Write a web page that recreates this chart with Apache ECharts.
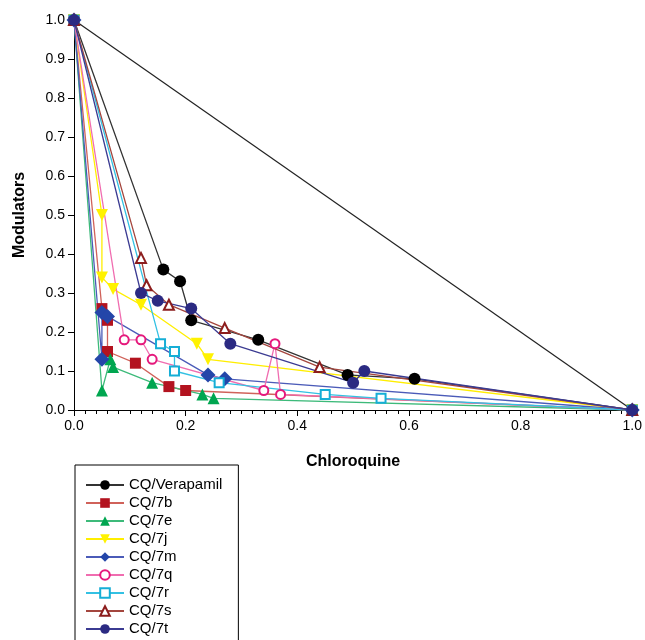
<!DOCTYPE html>
<html>
<head>
<meta charset="utf-8">
<script src="https://cdn.jsdelivr.net/npm/echarts@6/dist/echarts.min.js"></script>
<style>
  html, body { margin: 0; padding: 0; background: #fff; }
  #chart { width: 645px; height: 640px; }
</style>
</head>
<body>
<div id="chart"></div>
<script>
// isobologram data, [chloroquine, modulator] fractions
const verapamil = [[0, 1], [0.16, 0.36], [0.19, 0.33], [0.21, 0.23], [0.33, 0.18], [0.49, 0.09], [0.61, 0.08], [1, 0]];
const cq7b = [[0, 1], [0.05, 0.26], [0.06, 0.23], [0.06, 0.15], [0.11, 0.12], [0.17, 0.06], [0.20, 0.05], [1, 0]];
const cq7e = [[0, 1], [0.05, 0.05], [0.065, 0.13], [0.07, 0.11], [0.14, 0.07], [0.23, 0.04], [0.25, 0.03], [1, 0]];
const cq7j = [[0, 1], [0.05, 0.50], [0.05, 0.34], [0.07, 0.31], [0.12, 0.27], [0.22, 0.17], [0.24, 0.13], [1, 0]];
const cq7m = [[0, 1], [0.05, 0.13], [0.05, 0.25], [0.06, 0.24], [0.24, 0.09], [0.27, 0.08], [1, 0]];
const cq7q = [[0, 1], [0.09, 0.18], [0.12, 0.18], [0.14, 0.13], [0.34, 0.05], [0.36, 0.17], [0.37, 0.04], [1, 0]];
const cq7r = [[0, 1], [0.155, 0.17], [0.18, 0.15], [0.18, 0.10], [0.26, 0.07], [0.45, 0.04], [0.55, 0.03], [1, 0]];
const cq7s = [[0, 1], [0.12, 0.39], [0.13, 0.32], [0.17, 0.27], [0.27, 0.21], [0.44, 0.11], [1, 0]];
const cq7t = [[0, 1], [0.12, 0.30], [0.15, 0.28], [0.21, 0.26], [0.28, 0.17], [0.50, 0.07], [0.52, 0.10], [1, 0]];
const additivity = [[0, 1], [1, 0]];

const seriesNames = ['CQ/Verapamil', 'CQ/7b', 'CQ/7e', 'CQ/7j', 'CQ/7m', 'CQ/7q', 'CQ/7r', 'CQ/7s', 'CQ/7t'];

const font = 'Liberation Sans, Arial, Helvetica, sans-serif';
const chart = echarts.init(document.getElementById('chart'));

function mkSeries(name, data, symbol, markColor, lineColor, empty, size, rotate) {
  return {
    name: name,
    type: 'line',
    data: data,
    symbol: symbol,
    symbolSize: size,
    symbolRotate: rotate || 0,
    xAxisIndex: 0,
    yAxisIndex: 0,
    lineStyle: { color: lineColor, width: 1.3 },
    itemStyle: empty
      ? { color: markColor, borderColor: markColor, borderWidth: 2.5 }
      : { color: markColor, borderColor: markColor, borderWidth: 0 },
    emphasis: { disabled: true },
    animation: false,
    z: 3
  };
}

const option = {
  backgroundColor: '#fff',
  animation: false,
  grid: { left: 74, right: 12, top: 20, bottom: 230 },
  legend: {
    data: seriesNames,
    orient: 'vertical',
    left: 75,
    top: 465,
    height: 220,
    itemWidth: 38,
    itemHeight: 12,
    itemGap: 0,
    padding: [11, 16, 20, 10],
    borderColor: '#000',
    borderWidth: 1,
    textStyle: { fontFamily: font, fontSize: 15, color: '#000', lineHeight: 18 }
  },
  xAxis: [
    {
      type: 'value', min: 0, max: 1, interval: 0.2,
      name: 'Chloroquine', nameLocation: 'middle', nameGap: 44,
      nameTextStyle: { fontFamily: font, fontSize: 16, fontWeight: 'bold', color: '#000' },
      axisLine: { lineStyle: { color: '#000', width: 1 } },
      axisTick: { inside: false, length: 6, lineStyle: { color: '#000' } },
      minorTick: { show: true, splitNumber: 10, length: 4, lineStyle: { color: '#000' } },
      axisLabel: { fontFamily: font, fontSize: 14, color: '#000', margin: 9, formatter: v => v.toFixed(1) },
      splitLine: { show: false }
    },
    {
      type: 'value', min: 0, max: 1, interval: 0.02, position: 'top',
      axisLine: { lineStyle: { color: '#000', width: 1 } },
      axisTick: { inside: true, length: 4, lineStyle: { color: '#000' } },
      axisLabel: { show: false },
      splitLine: { show: false }
    }
  ],
  yAxis: [
    {
      type: 'value', min: 0, max: 1, interval: 0.1,
      name: 'Modulators', nameLocation: 'middle', nameGap: 46,
      nameTextStyle: { fontFamily: font, fontSize: 16, fontWeight: 'bold', color: '#000' },
      axisLine: { show: true, lineStyle: { color: '#000', width: 1 } },
      axisTick: { show: true, inside: false, length: 6, lineStyle: { color: '#000' } },
      axisLabel: { fontFamily: font, fontSize: 14, color: '#000', margin: 9, formatter: v => v.toFixed(1) },
      splitLine: { show: false }
    },
    {
      type: 'value', min: 0, max: 1, position: 'right',
      axisLine: { show: true, lineStyle: { color: '#000', width: 1 } },
      axisTick: { show: false },
      axisLabel: { show: false },
      splitLine: { show: false }
    }
  ],
  series: [
    {
      name: 'additivity', type: 'line', data: additivity, symbol: 'none',
      lineStyle: { color: '#222', width: 1.2 }, silent: true, z: 2
    },
    mkSeries('CQ/Verapamil', verapamil, 'circle', '#000000', '#333333', false, 12),
    mkSeries('CQ/7b', cq7b, 'rect', '#b3131f', '#d0625a', false, 11),
    mkSeries('CQ/7e', cq7e, 'triangle', '#00a650', '#3dba7a', false, 12),
    mkSeries('CQ/7j', cq7j, 'triangle', '#fff200', '#ffee00', false, 12, 180),
    mkSeries('CQ/7m', cq7m, 'diamond', '#2446a9', '#4b5bb8', false, 15),
    mkSeries('CQ/7q', cq7q, 'emptyCircle', '#e5197c', '#f06db0', true, 9),
    mkSeries('CQ/7r', cq7r, 'emptyRect', '#16aed6', '#33c1e3', true, 9),
    mkSeries('CQ/7s', cq7s, 'emptyTriangle', '#8c1d1d', '#a4463e', true, 10),
    mkSeries('CQ/7t', cq7t, 'circle', '#2b2a82', '#3b3b92', false, 12)
  ]
};

chart.setOption(option);
</script>
</body>
</html>
